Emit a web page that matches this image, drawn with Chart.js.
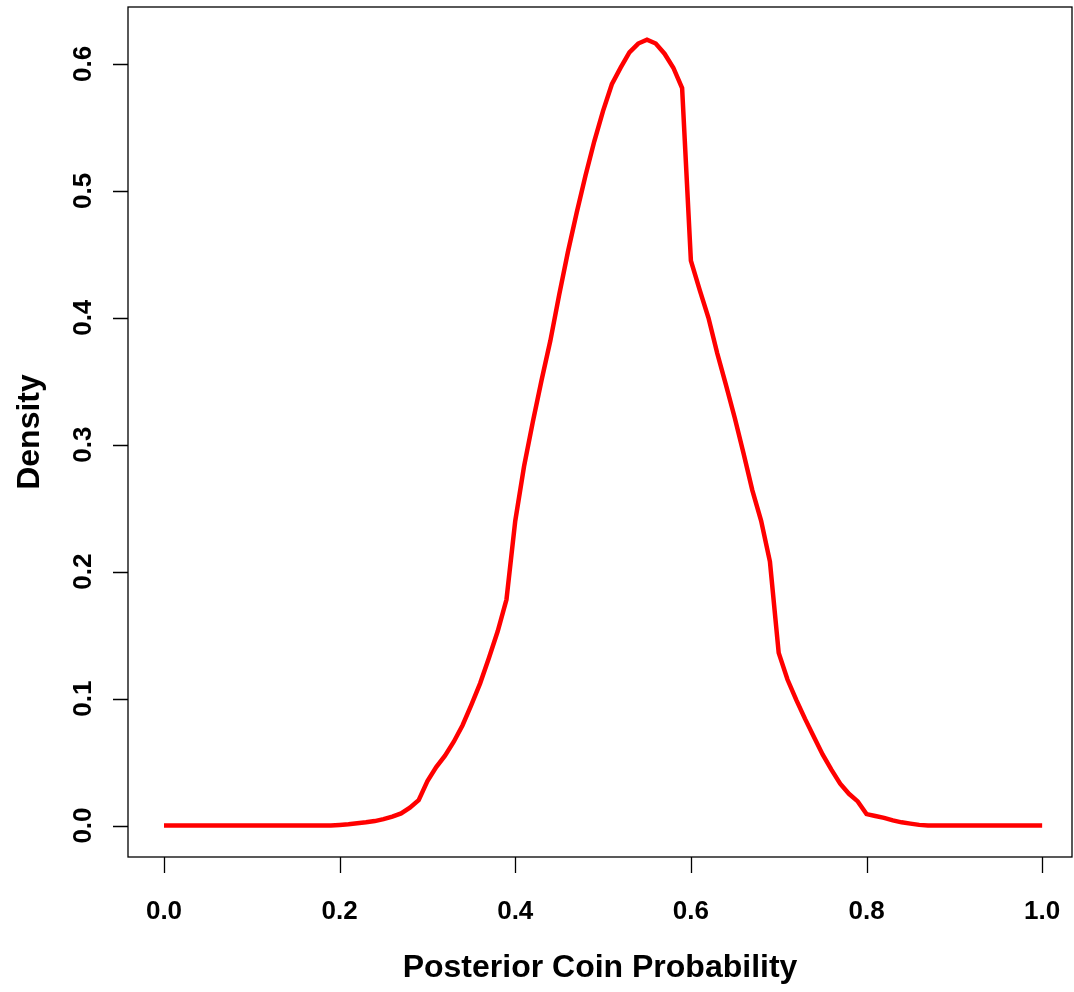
<!DOCTYPE html>
<html>
<head>
<meta charset="utf-8">
<script src="https://cdn.jsdelivr.net/npm/chart.js@4/dist/chart.umd.min.js"></script>
<style>
  body { margin: 0; background: #fff; }
  #wrap { width: 1074px; height: 992px; position: relative; }
</style>
</head>
<body>
<div id="wrap"><canvas id="mycanvas"></canvas></div>
<script>
// posterior density
var probs = [0.00, 0.19, 0.20, 0.21, 0.22, 0.23, 0.24, 0.25, 0.26, 0.27, 0.28, 0.29,
             0.30, 0.31, 0.32, 0.33, 0.34, 0.35, 0.36, 0.37, 0.38, 0.39,
             0.40, 0.41, 0.42, 0.43, 0.44, 0.45, 0.46, 0.47, 0.48, 0.49,
             0.50, 0.51, 0.52, 0.53, 0.54, 0.55, 0.56, 0.57, 0.58, 0.59,
             0.60, 0.61, 0.62, 0.63, 0.64, 0.65, 0.66, 0.67, 0.68, 0.69,
             0.70, 0.71, 0.72, 0.73, 0.74, 0.75, 0.76, 0.77, 0.78, 0.79,
             0.80, 0.81, 0.82, 0.83, 0.84, 0.85, 0.86, 0.87, 1.00];
var density = [0, 0, 0.0005, 0.001, 0.0017, 0.0025, 0.0035, 0.005, 0.007, 0.0095, 0.014, 0.020,
               0.035, 0.046, 0.055, 0.066, 0.079, 0.095, 0.112, 0.132, 0.153, 0.178,
               0.240, 0.283, 0.318, 0.351, 0.382, 0.418, 0.452, 0.483, 0.512, 0.539,
               0.563, 0.584, 0.597, 0.609, 0.616, 0.619, 0.616, 0.608, 0.597, 0.581,
               0.445, 0.422, 0.400, 0.372, 0.347, 0.321, 0.293, 0.264, 0.240, 0.208,
               0.136, 0.115, 0.099, 0.084, 0.070, 0.056, 0.044, 0.033, 0.025, 0.019,
               0.009, 0.0075, 0.006, 0.004, 0.0025, 0.0015, 0.0005, 0, 0];
var xTicks = [0.0, 0.2, 0.4, 0.6, 0.8, 1.0];
var yTicks = [0.0, 0.1, 0.2, 0.3, 0.4, 0.5, 0.6];
var xTitle = "Posterior Coin Probability";
var yTitle = "Density";

var points = [];
for (var i in probs) {
	points.push({x: probs[i], y: density[i]});
}

var FONT = "'Liberation Sans', Arial, sans-serif";

// R style box, ticks and labels, drawn from the chart's own scales
var rAxes = {
	id: 'rAxes',
	afterDraw: function(chart) {
		var c = chart.ctx, a = chart.chartArea;
		var xs = chart.scales.x, ys = chart.scales.y;
		c.save();
		c.strokeStyle = "#000";
		c.lineWidth = 1.3;
		c.strokeRect(a.left, a.top, a.right - a.left, a.bottom - a.top);

		c.fillStyle = "#000";
		c.font = "bold 26px " + FONT;
		c.beginPath();
		xTicks.forEach(function(v) {
			var px = Math.round(xs.getPixelForValue(v)) + 0.5;
			c.moveTo(px, a.bottom);
			c.lineTo(px, a.bottom + 16);
		});
		yTicks.forEach(function(v) {
			var py = Math.round(ys.getPixelForValue(v)) + 0.5;
			c.moveTo(a.left, py);
			c.lineTo(a.left - 15, py);
		});
		c.stroke();

		c.textAlign = "center";
		c.textBaseline = "middle";
		xTicks.forEach(function(v) {
			c.fillText(v.toFixed(1), xs.getPixelForValue(v), 912);
		});
		yTicks.forEach(function(v) {
			c.save();
			c.translate(84, ys.getPixelForValue(v));
			c.rotate(-Math.PI / 2);
			c.fillText(v.toFixed(1), 0, 0);
			c.restore();
		});

		c.font = "bold 32px " + FONT;
		c.fillText(xTitle, (a.left + a.right) / 2, 968);
		c.save();
		c.translate(30, (a.top + a.bottom) / 2);
		c.rotate(-Math.PI / 2);
		c.fillText(yTitle, 0, 0);
		c.restore();
		c.restore();
	}
};

var ctx = document.getElementById("mycanvas");

var chart = new Chart(ctx, {
	type: 'line',
	data: {
		datasets: [{
			data: points,
			borderColor: "#ff0000",
			borderWidth: 4.5,
			pointRadius: 0,
			tension: 0,
			fill: false
		}]
	},
	options: {
		responsive: true,
		maintainAspectRatio: false,
		animation: false,
		layout: { padding: { top: 7, right: 2, left: 0, bottom: 0 } },
		plugins: { legend: { display: false }, tooltip: { enabled: false } },
		scales: {
			x: {
				type: 'linear',
				min: -0.041,
				max: 1.034,
				grid: { display: false },
				border: { display: false },
				ticks: { display: false },
				afterFit: function(s) { s.height = 135; }
			},
			y: {
				min: -0.0248,
				max: 0.6448,
				grid: { display: false },
				border: { display: false },
				ticks: { display: false },
				afterFit: function(s) { s.width = 128; }
			}
		}
	},
	plugins: [rAxes]
});
</script>
</body>
</html>
